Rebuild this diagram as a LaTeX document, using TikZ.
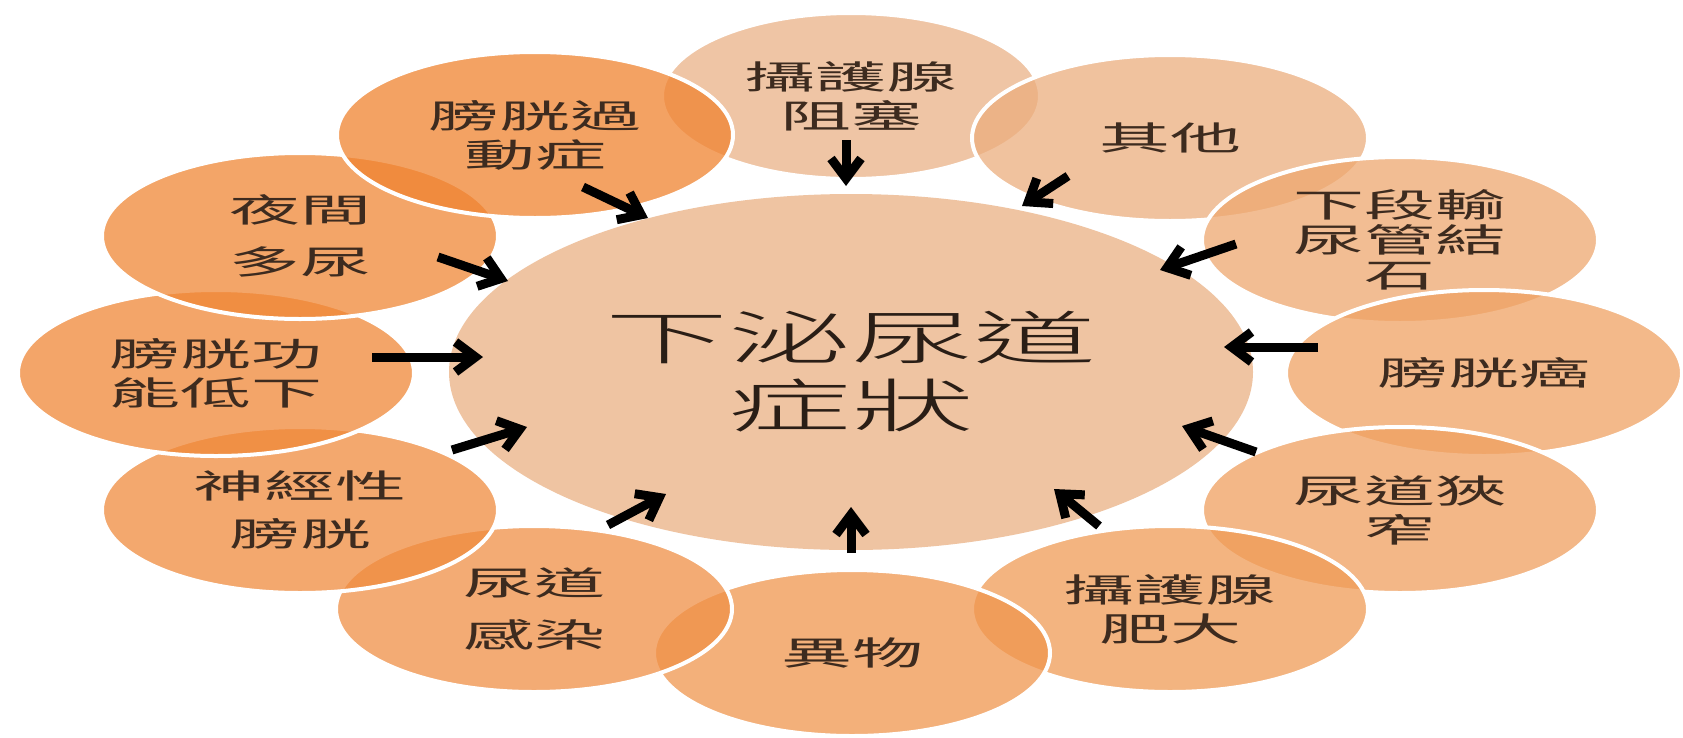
\documentclass[tikz,border=0pt]{standalone}
\usepackage{fontspec}
\newfontfamily\cjk{Noto Sans CJK TC}[FakeStretch=2.15]
\IfFontExistsTF{Noto Sans CJK TC Light}
  {\newfontfamily\cjkl{Noto Sans CJK TC Light}[FakeStretch=2.12]}
  {\newfontfamily\cjkl{Noto Sans CJK TC}[FakeStretch=2.12]}
\usetikzlibrary{shapes.geometric,arrows.meta}
\definecolor{cfill}{RGB}{239,196,162}
\definecolor{fa}{RGB}{234,178,135}
\definecolor{fb}{RGB}{235,174,126}
\definecolor{fc}{RGB}{238,168,112}
\definecolor{fd}{RGB}{239,162,99}
\definecolor{fe}{RGB}{239,160,96}
\definecolor{ff}{RGB}{239,155,86}
\definecolor{fg}{RGB}{240,150,78}
\definecolor{fh}{RGB}{240,144,70}
\definecolor{fi}{RGB}{240,139,62}
\definecolor{fj}{RGB}{240,136,56}
\definecolor{fk}{RGB}{240,135,54}
\definecolor{fl}{RGB}{240,131,48}
\definecolor{txtsat}{RGB}{61,43,31}
\definecolor{txtcen}{RGB}{42,30,22}
\begin{document}
\begin{tikzpicture}[x=1pt,y=-1pt,
  sat/.style={ellipse, draw=white, line width=4pt, fill opacity=0.75,
    text opacity=1, minimum width=396pt, minimum height=166pt, inner sep=0pt,
    align=center, text=txtsat, font=\cjk\fontsize{33}{39}\selectfont},
  cen/.style={ellipse, fill=cfill, minimum width=804pt, minimum height=356pt,
    inner sep=0pt, align=center, text=txtcen, font=\cjkl\fontsize{58}{68}\selectfont},
  arr/.style={line width=9pt, draw=black,
    -{Straight Barb[length=20pt,width=30pt]}}]
\useasboundingbox (0,0) rectangle (1683,737);
\fill[white] (0,0) rectangle (1683,737);
\node[cen] (c) at (851,372) {下泌尿道\\症狀};
\node[sat, fill=fa, minimum width=378pt] (n1) at (851,96) {攝護腺\\阻塞};
\node[sat, fill=fb] (n2) at (1170,138) {其他};
\node[sat, fill=fc, font=\cjk\fontsize{33}{35}\selectfont] (n3) at (1400,240) {下段輸\\尿管結\\石};
\node[sat, fill=fd] (n4) at (1484,373) {膀胱癌};
\node[sat, fill=fe] (n5) at (1400,510) {尿道狹\\窄};
\node[sat, fill=ff] (n6) at (1170,609) {攝護腺\\肥大};
\node[sat, fill=fg] (n7) at (852,653) {異物};
\node[sat, fill=fh, font=\cjk\fontsize{33}{52}\selectfont] (n8) at (534,609) {尿道\\感染};
\node[sat, fill=fi, font=\cjk\fontsize{33}{48}\selectfont] (n9) at (300,510) {神經性\\膀胱};
\node[sat, fill=fj] (n10) at (216,373) {膀胱功\\能低下};
\node[sat, fill=fk, font=\cjk\fontsize{33}{52}\selectfont] (n11) at (300,236) {夜間\\多尿};
\node[sat, fill=fl] (n12) at (535,135) {膀胱過\\動症};
% arrows
\coordinate (a1s) at (846,140);  \coordinate (a1e) at (846,186);
\coordinate (a2s) at (1068,176); \coordinate (a2e) at (1022,206);
\coordinate (a3s) at (1236,244); \coordinate (a3e) at (1160,270);
\coordinate (a4s) at (1318,347); \coordinate (a4e) at (1224,347);
\coordinate (a5s) at (1256,452); \coordinate (a5e) at (1182,426);
\coordinate (a6s) at (1099,526); \coordinate (a6e) at (1054,489);
\coordinate (a7s) at (851,553);  \coordinate (a7e) at (851,507);
\coordinate (a8s) at (608,525);  \coordinate (a8e) at (666,494);
\coordinate (a9s) at (452,450);  \coordinate (a9e) at (527,427);
\coordinate (a10s) at (372,357); \coordinate (a10e) at (483,357);
\coordinate (a11s) at (438,257); \coordinate (a11e) at (508,281);
\coordinate (a12s) at (583,187); \coordinate (a12e) at (648,218);
\foreach \i in {1,...,12} {\draw[arr] (a\i s) -- (a\i e);}
\end{tikzpicture}
\end{document}
